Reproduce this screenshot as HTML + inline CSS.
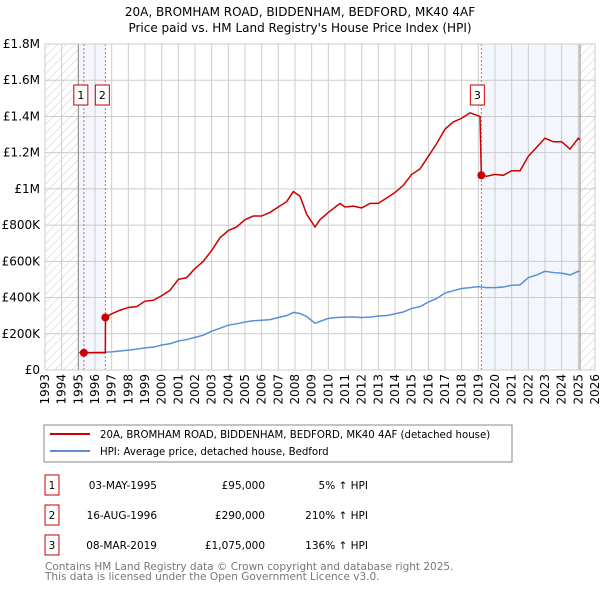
<!DOCTYPE html>
<html><head><meta charset="utf-8">
<style>
body{margin:0;background:#fff;font-family:"DejaVu Sans","Liberation Sans",sans-serif;}
#wrap{position:relative;width:600px;height:590px;overflow:hidden}
svg text{font-family:"DejaVu Sans","Liberation Sans",sans-serif}
</style></head><body>
<div id="wrap">
<svg id="chart" width="600" height="590">
<defs>
<pattern id="hatch" width="6" height="6" patternUnits="userSpaceOnUse" patternTransform="rotate(45)">
<line x1="0" y1="0" x2="0" y2="6" stroke="#ccc" stroke-width="1"/>
</pattern>
</defs>
<text x="300" y="16" text-anchor="middle" font-size="12">20A, BROMHAM ROAD, BIDDENHAM, BEDFORD, MK40 4AF</text>
<text x="300" y="32" text-anchor="middle" font-size="12">Price paid vs. HM Land Registry's House Price Index (HPI)</text>
<g id="grid"></g><g id="series"></g><g id="axes"></g>
<rect x="44" y="425" width="468" height="37" fill="#fff" stroke="#888"/>
<line x1="50" y1="434" x2="90" y2="434" stroke="#cc0000" stroke-width="2"/>
<text x="100" y="438" font-size="10.2">20A, BROMHAM ROAD, BIDDENHAM, BEDFORD, MK40 4AF (detached house)</text>
<line x1="50" y1="451" x2="90" y2="451" stroke="#5b8fd6" stroke-width="2"/>
<text x="100" y="455" font-size="10.2">HPI: Average price, detached house, Bedford</text>
<g font-size="10.5">
<rect x="45" y="475" width="14" height="20" fill="#fff" stroke="#cc0000"/><text x="52" y="489" text-anchor="middle">1</text>
<text x="157" y="489" text-anchor="end">03-MAY-1995</text><text x="265" y="489" text-anchor="end">£95,000</text><text x="368" y="489" text-anchor="end">5% ↑ HPI</text>
<rect x="45" y="505" width="14" height="20" fill="#fff" stroke="#cc0000"/><text x="52" y="519" text-anchor="middle">2</text>
<text x="157" y="519" text-anchor="end">16-AUG-1996</text><text x="265" y="519" text-anchor="end">£290,000</text><text x="368" y="519" text-anchor="end">210% ↑ HPI</text>
<rect x="45" y="535" width="14" height="20" fill="#fff" stroke="#cc0000"/><text x="52" y="549" text-anchor="middle">3</text>
<text x="157" y="549" text-anchor="end">08-MAR-2019</text><text x="265" y="549" text-anchor="end">£1,075,000</text><text x="368" y="549" text-anchor="end">136% ↑ HPI</text>
</g>
<text x="45" y="570" font-size="10.5" fill="#777">Contains HM Land Registry data © Crown copyright and database right 2025.</text>
<text x="45" y="580" font-size="10.5" fill="#777">This data is licensed under the Open Government Licence v3.0.</text>
</svg>
</div>
<script>
const yearTicks=[1993,1994,1995,1996,1997,1998,1999,2000,2001,2002,2003,2004,2005,2006,2007,2008,2009,2010,2011,2012,2013,2014,2015,2016,2017,2018,2019,2020,2021,2022,2023,2024,2025,2026];
const valueTicks=[0,200000,400000,600000,800000,1000000,1200000,1400000,1600000,1800000];
const valueLabels=["£0","£200K","£400K","£600K","£800K","£1M","£1.2M","£1.4M","£1.6M","£1.8M"];
const saleDates=[1995.33,1996.62,2019.18];
const salePrices=[95000,290000,1075000];
const hpiDates=[1995,1995.5,1996,1996.5,1997,1997.5,1998,1998.5,1999,1999.5,2000,2000.5,2001,2001.5,2002,2002.5,2003,2003.5,2004,2004.5,2005,2005.5,2006,2006.5,2007,2007.5,2007.9,2008.3,2008.7,2009.2,2009.6,2010,2010.5,2011,2011.5,2012,2012.5,2013,2013.5,2014,2014.5,2015,2015.5,2016,2016.5,2017,2017.5,2018,2018.5,2019,2019.5,2020,2020.5,2021,2021.5,2022,2022.5,2023,2023.5,2024,2024.5,2025,2025.1];
const hpiValues=[95000,96000,97000,98000,100000,105000,110000,115000,122000,126000,138000,145000,160000,168000,180000,192000,215000,230000,248000,255000,265000,272000,275000,278000,290000,300000,318000,312000,295000,258000,272000,285000,290000,292000,293000,290000,292000,298000,300000,310000,320000,340000,350000,375000,395000,425000,438000,450000,455000,460000,455000,455000,458000,468000,470000,510000,525000,545000,538000,535000,525000,545000,543000];
const propDates=[1995.33,1996.0,1996.62,1996.63,1997,1997.5,1998,1998.5,1999,1999.5,2000,2000.5,2001,2001.5,2002,2002.5,2003,2003.5,2004,2004.5,2005,2005.5,2006,2006.5,2007,2007.5,2007.9,2008.3,2008.7,2009.2,2009.5,2010,2010.7,2011,2011.5,2012,2012.5,2013,2013.5,2014,2014.5,2015,2015.5,2016,2016.5,2017,2017.5,2018,2018.5,2019.1,2019.18,2019.5,2020,2020.5,2021,2021.5,2022,2022.5,2023,2023.5,2024,2024.5,2025,2025.1];
const propValues=[95000,95000,95000,290000,310000,330000,345000,350000,380000,385000,410000,440000,500000,510000,560000,600000,660000,730000,770000,790000,830000,850000,850000,870000,900000,930000,985000,960000,860000,790000,830000,870000,920000,900000,905000,895000,920000,920000,950000,980000,1020000,1080000,1110000,1180000,1250000,1330000,1370000,1390000,1420000,1400000,1075000,1070000,1080000,1075000,1100000,1100000,1180000,1230000,1280000,1260000,1260000,1220000,1280000,1270000];

const X0=45,X1=595,Y0=370,Y1=44;
const xs=d=>X0+(d-1993)/(2026-1993)*(X1-X0);
const ys=v=>Y0-v/1800000*(Y0-Y1);
const NS="http://www.w3.org/2000/svg";
function mk(parent,tag,attrs){const e=document.createElementNS(NS,tag);for(const k in attrs)e.setAttribute(k,attrs[k]);parent.appendChild(e);return e;}
const grid=document.getElementById('grid'),series=document.getElementById('series'),axes=document.getElementById('axes');
let r=mk(grid,'rect',{x:xs(1993),y:Y1,width:xs(1995)-xs(1993),height:Y0-Y1,fill:'url(#hatch)'});

r=mk(grid,'rect',{x:xs(2025.1),y:Y1,width:xs(2026)-xs(2025.1),height:Y0-Y1,fill:'url(#hatch)'});

r=mk(grid,'rect',{x:xs(1995),y:Y1,width:xs(saleDates[1])-xs(1995),height:Y0-Y1,fill:'#eef3fc',opacity:0.7});

r=mk(grid,'rect',{x:xs(saleDates[2]),y:Y1,width:xs(2025.1)-xs(saleDates[2]),height:Y0-Y1,fill:'#eef3fc',opacity:0.7});

yearTicks.forEach(y=>{
  const l=mk(grid,'line',{x1:xs(y),x2:xs(y),y1:Y1,y2:Y0,stroke:'#ccc','stroke-width':1});
  
  const t=mk(axes,'text',{x:0,y:0,'font-size':12,'text-anchor':'end',transform:`translate(${xs(y)+4},374) rotate(-90)`});
  t.textContent=y;
  
});
valueTicks.forEach((v,i)=>{
  const l=mk(grid,'line',{x1:X0,x2:X1,y1:ys(v),y2:ys(v),stroke:'#ccc','stroke-width':1});
  
  const t=mk(axes,'text',{x:40,y:ys(v)+4,'font-size':12,'text-anchor':'end'});
  t.textContent=valueLabels[i];
  
});
r=mk(grid,'line',{x1:xs(1995),x2:xs(1995),y1:Y1,y2:Y0,stroke:'#888'});

r=mk(grid,'line',{x1:xs(2025.1),x2:xs(2025.1),y1:Y1,y2:Y0,stroke:'#888'});

saleDates.forEach((d,i)=>{
  const l=mk(grid,'line',{x1:xs(d),x2:xs(d),y1:Y1,y2:Y0,stroke:'#e06060','stroke-dasharray':'2,2'});
  
});
const hp=mk(series,'polyline',{points:hpiDates.map((d,i)=>xs(d)+','+ys(hpiValues[i])).join(' '),fill:'none',stroke:'#5b8fd6','stroke-width':1.5});

const pp=mk(series,'polyline',{points:propDates.map((d,i)=>xs(d)+','+ys(propValues[i])).join(' '),fill:'none',stroke:'#cc0000','stroke-width':1.5});

saleDates.forEach((d,i)=>{
  const c=mk(series,'circle',{cx:xs(d),cy:ys(salePrices[i]),r:4,fill:'#cc0000'});
  
  const bx=i===2?xs(d)-4:xs(d)-3;
  const g=mk(series,'g',{});
  
  mk(g,'rect',{x:bx-7,y:85,width:14,height:20,fill:'#fff',stroke:'#cc0000'});
  const t=mk(g,'text',{x:bx,y:99,'font-size':11,'text-anchor':'middle'});t.textContent=i+1;
});
const f=mk(axes,'rect',{x:X0,y:Y1,width:X1-X0,height:Y0-Y1,fill:'none',stroke:'#ccc'});

</script>
</body></html>
